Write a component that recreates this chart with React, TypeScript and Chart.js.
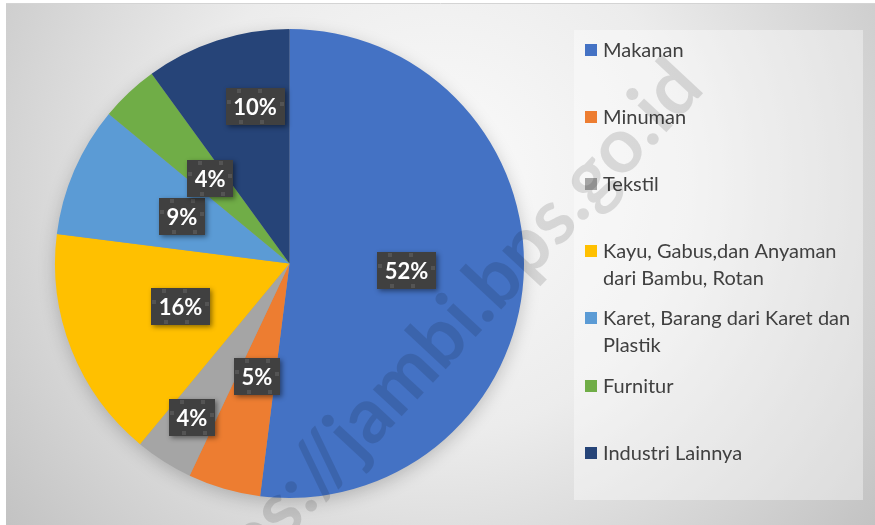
import React, { useEffect, useRef } from "react";
import { Chart, registerables } from "chart.js";
Chart.register(...registerables);

// ---- data ----
const categories = [
  "Makanan",
  "Minuman",
  "Tekstil",
  "Kayu, Gabus,dan Anyaman dari Bambu, Rotan",
  "Karet, Barang dari Karet dan Plastik",
  "Furnitur",
  "Industri Lainnya",
];
const shares = [52, 5, 4, 16, 9, 4, 10];
const sliceColors = ["#4472C4", "#ED7D31", "#A5A5A5", "#FFC000", "#5B9BD5", "#70AD47", "#264478"];
const watermarkText = "https://jambi.bps.go.id";

// ---- label placement (style) ----
const labelRadiusFrac = [0.5, 0.5, 0.777, 0.5, 0.5, 0.495, 0.685];
const labelAngleNudge = [0, 0, 0, 0, 0, 0, 0.098];

const FONT = "Lato, 'Open Sans', sans-serif";

const bgPlugin = {
  id: "bgPlugin",
  beforeDraw(chart: any) {
    const ctx = chart.ctx as CanvasRenderingContext2D;
    const W = chart.width, H = chart.height;
    ctx.save();
    ctx.fillStyle = "#ffffff";
    ctx.fillRect(0, 0, W, H);
    const g = ctx.createRadialGradient(440, 180, 0, 440, 180, 560);
    g.addColorStop(0, "#fbfbfb");
    g.addColorStop(0.45, "#ececec");
    g.addColorStop(1, "#c2c2c2");
    ctx.fillStyle = g;
    ctx.fillRect(6, 4, W - 6, H - 4);
    ctx.strokeStyle = "#d4d4d4";
    ctx.lineWidth = 1;
    ctx.beginPath();
    ctx.moveTo(6, 3.5);
    ctx.lineTo(W, 3.5);
    ctx.stroke();
    // legend box
    ctx.fillStyle = "rgba(255,255,255,0.38)";
    ctx.fillRect(574, 30, 289, 470);
    ctx.restore();
  },
};

const shadowPlugin = {
  id: "shadowPlugin",
  beforeDatasetsDraw(chart: any) {
    const arc = chart.getDatasetMeta(0).data[0];
    if (!arc) return;
    const ctx = chart.ctx as CanvasRenderingContext2D;
    ctx.save();
    ctx.shadowColor = "rgba(0,0,0,0.22)";
    ctx.shadowBlur = 18;
    ctx.shadowOffsetY = 5;
    ctx.fillStyle = "#999";
    ctx.beginPath();
    ctx.arc(arc.x, arc.y, arc.outerRadius - 1, 0, Math.PI * 2);
    ctx.fill();
    ctx.restore();
  },
};

const labelPlugin = {
  id: "labelPlugin",
  afterDatasetsDraw(chart: any) {
    const ctx = chart.ctx as CanvasRenderingContext2D;
    const meta = chart.getDatasetMeta(0);
    const data = chart.data.datasets[0].data as number[];
    ctx.save();
    ctx.font = `bold 22px ${FONT}`;
    meta.data.forEach((arc: any, i: number) => {
      const mid = (arc.startAngle + arc.endAngle) / 2 + labelAngleNudge[i];
      const r = arc.outerRadius * labelRadiusFrac[i];
      const cx = arc.x + Math.cos(mid) * r;
      const cy = arc.y + Math.sin(mid) * r;
      const text = `${data[i]}%`;
      const tw = ctx.measureText(text).width;
      const w = Math.round(tw + 15);
      const h = 37;
      const x0 = Math.round(cx - w / 2);
      const y0 = Math.round(cy - h / 2);
      ctx.save();
      ctx.shadowColor = "rgba(0,0,0,0.45)";
      ctx.shadowBlur = 5;
      ctx.shadowOffsetX = 2;
      ctx.shadowOffsetY = 2;
      ctx.fillStyle = "#404040";
      ctx.fillRect(x0, y0, w, h);
      ctx.restore();
      // dotted pattern border
      ctx.fillStyle = "#545454";
      for (let x = x0 + 11; x < x0 + w - 6; x += 21) {
        ctx.fillRect(x, y0 + 1, 4, 4);
        ctx.fillRect(x + 2, y0 + h - 5, 4, 4);
      }
      for (let y = y0 + 12; y < y0 + h - 6; y += 20) {
        ctx.fillRect(x0 + 1, y, 4, 4);
        ctx.fillRect(x0 + w - 5, y + 2, 4, 4);
      }
      ctx.fillStyle = "#ffffff";
      ctx.textAlign = "center";
      ctx.textBaseline = "alphabetic";
      ctx.fillText(text, cx, y0 + h / 2 + 8);
    });
    ctx.restore();
  },
};

function wrapLines(ctx: CanvasRenderingContext2D, text: string, maxW: number) {
  const words = text.split(" ");
  const lines: string[] = [];
  let cur = "";
  for (const w of words) {
    const t = cur ? cur + " " + w : w;
    if (cur && ctx.measureText(t).width > maxW) {
      lines.push(cur);
      cur = w;
    } else cur = t;
  }
  if (cur) lines.push(cur);
  return lines;
}

const legendPlugin = {
  id: "legendPlugin",
  afterDatasetsDraw(chart: any) {
    const ctx = chart.ctx as CanvasRenderingContext2D;
    const labels = chart.data.labels as string[];
    const colors = chart.data.datasets[0].backgroundColor as string[];
    ctx.save();
    ctx.font = `20px ${FONT}`;
    ctx.textAlign = "left";
    ctx.textBaseline = "alphabetic";
    labels.forEach((lab, i) => {
      const yc = 49.5 + 67.2 * i;
      ctx.fillStyle = colors[i];
      ctx.fillRect(585, Math.round(yc - 6), 12, 12);
      ctx.fillStyle = "#404040";
      const lines = wrapLines(ctx, lab, 256);
      lines.forEach((ln, k) => ctx.fillText(ln, 603, yc + 7 + k * 26.5));
    });
    ctx.restore();
  },
};

const watermarkPlugin = {
  id: "watermarkPlugin",
  afterDraw(chart: any) {
    const ctx = chart.ctx as CanvasRenderingContext2D;
    ctx.save();
    ctx.font = `bold 77px ${FONT}`;
    const off = ctx.measureText("https://jambi.").width;
    ctx.translate(498, 313);
    ctx.rotate((-47 * Math.PI) / 180);
    ctx.fillStyle = "rgba(0,0,0,0.12)";
    ctx.textAlign = "left";
    ctx.textBaseline = "alphabetic";
    ctx.fillText(watermarkText, -off, 0);
    ctx.restore();
  },
};

export default function App() {
  const ref = useRef<HTMLCanvasElement>(null);
  useEffect(() => {
    let chart: Chart | null = null;
    let cancelled = false;
    const make = () => {
      if (cancelled || !ref.current) return;
      chart = new Chart(ref.current, {
        type: "pie",
        data: {
          labels: categories,
          datasets: [{ data: shares, backgroundColor: sliceColors, borderWidth: 0 }],
        },
        options: {
          responsive: false,
          animation: false,
          devicePixelRatio: 1,
          layout: { padding: { left: 55, right: 351, top: 29, bottom: 27 } },
          plugins: { legend: { display: false }, tooltip: { enabled: false } },
        },
        plugins: [bgPlugin, shadowPlugin, labelPlugin, legendPlugin, watermarkPlugin],
      } as any);
    };
    const fontsApi = (document as any).fonts;
    if (fontsApi && fontsApi.load) {
      Promise.all([
        fontsApi.load(`20px Lato`),
        fontsApi.load(`bold 22px Lato`),
      ]).then(make, make);
    } else make();
    return () => {
      cancelled = true;
      if (chart) chart.destroy();
    };
  }, []);
  return (
    <div style={{ position: "absolute", left: 0, top: 0 }}>
      <canvas ref={ref} width={875} height={525} style={{ display: "block" }} />
    </div>
  );
}
